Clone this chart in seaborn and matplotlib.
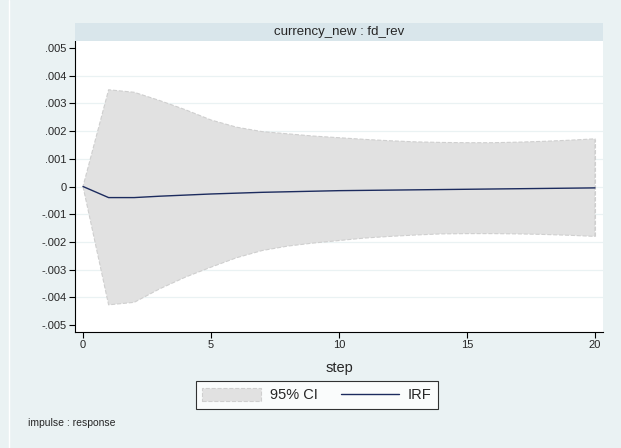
#!/usr/bin/env python3
"""
IRF plot: currency_new -> fd_rev (Stata-style)
"""

import numpy as np
import pandas as pd
import matplotlib
matplotlib.use('Agg')
import matplotlib.pyplot as plt
from matplotlib.patches import Patch, Rectangle
from matplotlib.lines import Line2D
import seaborn as sns

# data
steps = list(range(21))
irf = [0.0, -0.00040, -0.00040, -0.00035, -0.00031, -0.00027, -0.00024, -0.00021,
       -0.00019, -0.00017, -0.00015, -0.00014, -0.00013, -0.00012, -0.00011,
       -0.00010, -0.00009, -0.00008, -0.00007, -0.00006, -0.00005]
ci_upper = [0.0, 0.00349, 0.00340, 0.00310, 0.00277, 0.00240, 0.00214, 0.00198,
            0.00190, 0.00182, 0.00176, 0.00170, 0.00165, 0.00161, 0.00159,
            0.00158, 0.00158, 0.00160, 0.00163, 0.00167, 0.00172]
ci_lower = [0.0, -0.00427, -0.00418, -0.00369, -0.00327, -0.00291, -0.00257, -0.00231,
            -0.00215, -0.00204, -0.00195, -0.00186, -0.00180, -0.00175, -0.00171,
            -0.00170, -0.00170, -0.00171, -0.00173, -0.00176, -0.00180]
ytick_vals = [0.005, 0.004, 0.003, 0.002, 0.001, 0, -0.001, -0.002, -0.003, -0.004, -0.005]
ytick_labels = ['.005', '.004', '.003', '.002', '.001', '0', '-.001', '-.002', '-.003', '-.004', '-.005']
xtick_vals = [0, 5, 10, 15, 20]

df = pd.DataFrame({'step': steps, 'irf': irf, 'lo': ci_lower, 'hi': ci_upper})

sns.set_style('white')
plt.rcParams['font.family'] = ['Liberation Sans', 'DejaVu Sans']

BG = '#eaf2f3'
HEADER = '#d9e6eb'
NAVY = '#1c2b5e'
FILL = '#e1e1e1'
EDGE = '#cfcfcf'

fig = plt.figure(figsize=(6.21, 4.48), dpi=100, facecolor=BG)
# thin white vertical line near the left edge like the source
fig.add_artist(Line2D([8.5 / 621, 8.5 / 621], [0, 1], transform=fig.transFigure,
                      color='white', lw=1.0))

ax = fig.add_axes([75 / 621, 1 - 332 / 448, 528 / 621, 291 / 448])
ax.set_facecolor('white')

# CI band
ax.fill_between(df['step'], df['lo'], df['hi'], facecolor=FILL, edgecolor=EDGE,
                linestyle='--', linewidth=0.8, zorder=2)
ax.plot([20, 20], [ci_lower[-1], ci_upper[-1]], color=EDGE, ls='--', lw=0.8, zorder=2)

# IRF line
sns.lineplot(data=df, x='step', y='irf', color=NAVY, linewidth=1.0, ax=ax, zorder=3)

ax.set_xlim(-0.3125, 20.3125)
ax.set_ylim(-0.00525, 0.00525)
ax.set_xticks(xtick_vals)
ax.set_xticklabels([str(v) for v in xtick_vals], fontsize=8)
ax.set_yticks(ytick_vals)
ax.set_yticklabels(ytick_labels, fontsize=8)
ax.tick_params(axis='both', direction='out', length=4, width=0.8, color='black',
               pad=2, left=True, bottom=True)

for y in ytick_vals[1:-1]:
    ax.axhline(y, color=BG, lw=0.9, zorder=1)

for s in ['top', 'right']:
    ax.spines[s].set_visible(False)
for s in ['left', 'bottom']:
    ax.spines[s].set_color('black')
    ax.spines[s].set_linewidth(0.8)

ax.set_xlabel('step', fontsize=10.5, labelpad=8)
ax.set_ylabel('')

# header strip with the panel title
fig.patches.append(Rectangle((75 / 621, 1 - 41 / 448), 528 / 621, 18 / 448,
                             transform=fig.transFigure, facecolor=HEADER,
                             edgecolor='none'))
fig.text((75 + 603) / 2 / 621, 1 - 32 / 448, 'currency_new : fd_rev',
         ha='center', va='center', fontsize=9.5)

handles = [Patch(facecolor=FILL, edgecolor=EDGE, linestyle='--', linewidth=0.8),
           Line2D([], [], color=NAVY, lw=1.0)]
leg = fig.legend(handles, ['95% CI', 'IRF'], loc='center',
                 bbox_to_anchor=(317 / 621, 1 - 395 / 448), ncol=2, frameon=True,
                 fontsize=10.5, handlelength=4.0, handleheight=1.0, columnspacing=1.6,
                 handletextpad=0.6, borderpad=0.45, borderaxespad=0, fancybox=False)
leg.get_frame().set_edgecolor('black')
leg.get_frame().set_linewidth(0.8)
leg.get_frame().set_facecolor('white')

fig.text(28 / 621, 1 - 423 / 448, 'impulse : response', ha='left', va='center', fontsize=7.5)

plt.savefig('out.png', dpi=100, facecolor=BG)
plt.close()
